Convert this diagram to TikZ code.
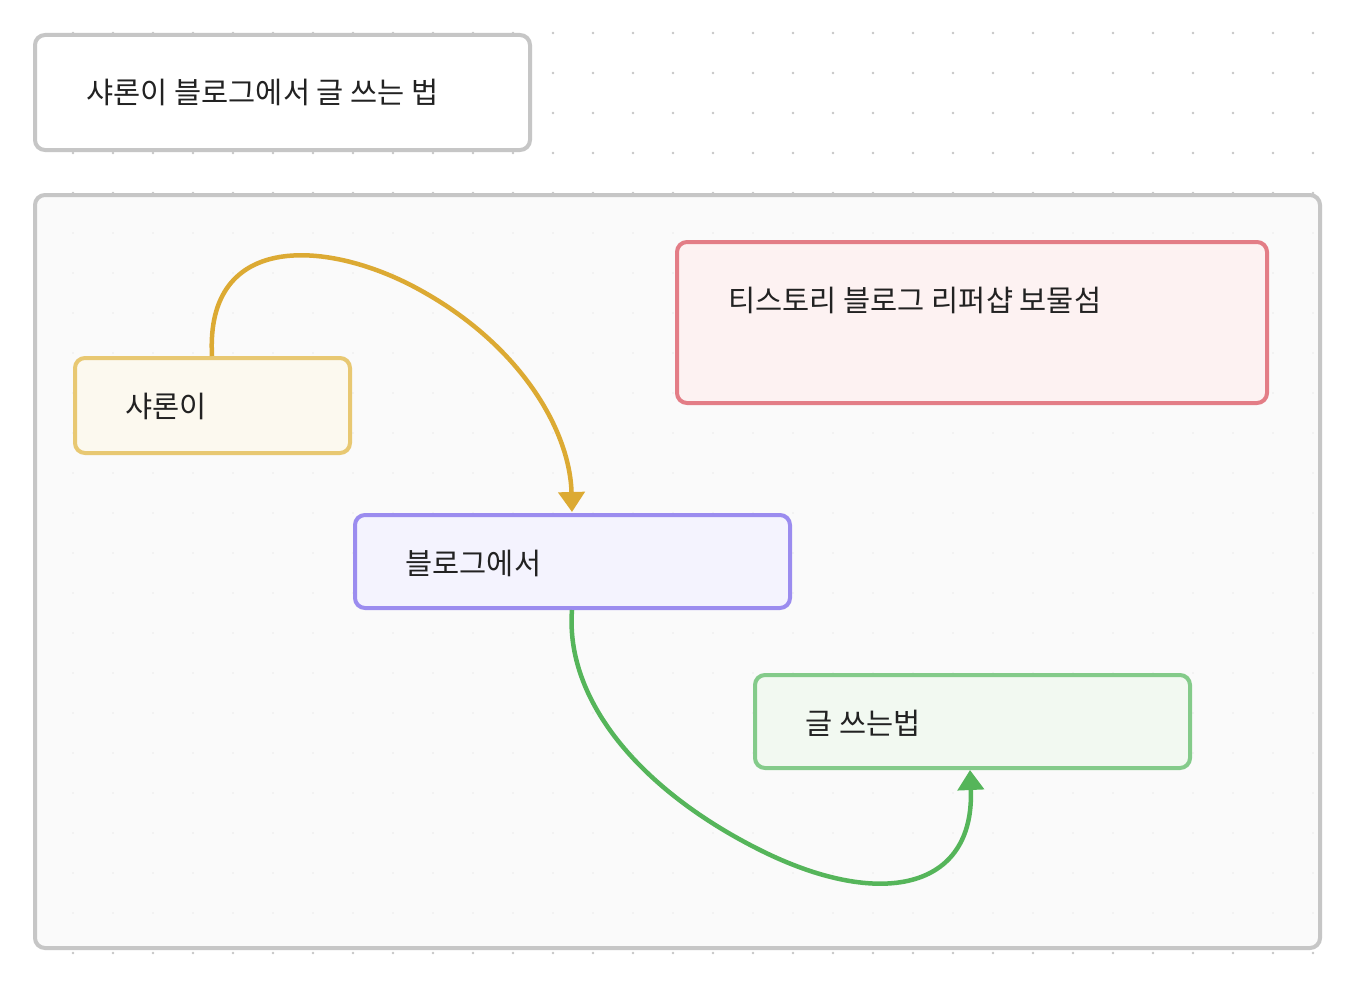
\documentclass[tikz,border=0pt]{standalone}
\usepackage{fontspec}
\setmainfont{Noto Sans CJK KR}[BoldFont={* Medium}]
\usetikzlibrary{arrows.meta}
\definecolor{frame}{HTML}{C6C6C6}
\definecolor{ybord}{HTML}{E8C872}\definecolor{yfill}{HTML}{FCF9EF}
\definecolor{rbord}{HTML}{E37D86}\definecolor{rfill}{HTML}{FDF2F2}
\definecolor{pbord}{HTML}{9B8CEF}\definecolor{pfill}{HTML}{F4F3FE}
\definecolor{gbord}{HTML}{84CB8A}\definecolor{gfill}{HTML}{F2F9F1}
\definecolor{yarrow}{HTML}{DCAA33}\definecolor{garrow}{HTML}{55B55A}
\definecolor{txt}{HTML}{222222}
\begin{document}
\begin{tikzpicture}[x=1pt,y=-1pt,
  box/.style={rounded corners=10pt,line width=4pt},
  lbl/.style={anchor=west,text=txt,font=\fontsize{29.5}{32}\selectfont},
  conn/.style={line width=4.5pt,-{Triangle[length=20pt,width=26pt]}}]
\useasboundingbox (0,0) rectangle (1352,990);
\fill[white] (0,0) rectangle (1352,990);
\foreach \x in {73,113,...,1313} \foreach \y in {33,73,...,953} \fill[gray!45] (\x,\y) circle (1.3pt);
\draw[box,frame,fill=white] (35,35) rectangle (530,150);
\node[lbl] (title) at (83,92) {샤론이 블로그에서 글 쓰는 법};
\draw[box,frame,fill={rgb,255:red,250;green,250;blue,250},fill opacity=0.85] (35,195) rectangle (1320,948);
\draw[box,ybord,fill=yfill] (75,358) rectangle (350,453);
\node[lbl] (y) at (122,406) {샤론이};
\draw[box,rbord,fill=rfill] (677,242) rectangle (1267,403);
\node[lbl] (r) at (725,300) {티스토리 블로그 리퍼샵 보물섬};
\draw[box,pbord,fill=pfill] (355,515) rectangle (790,608);
\node[lbl] (p) at (402,563) {블로그에서};
\draw[box,gbord,fill=gfill] (755,675) rectangle (1190,768);
\node[lbl] (g) at (802,723) {글 쓰는법};
\coordinate (ys) at (212,356);\coordinate (ye) at (572,512);
\coordinate (gs) at (572,610);\coordinate (ge) at (970,770);
\draw[conn,yarrow] (ys) .. controls (205,230) and (330,240) .. (420,290) .. controls (520,345) and (570,430) .. (ye);
\draw[conn,garrow] (gs) .. controls (565,700) and (640,790) .. (760,850) .. controls (880,910) and (975,890) .. (ge);
\end{tikzpicture}
\end{document}
